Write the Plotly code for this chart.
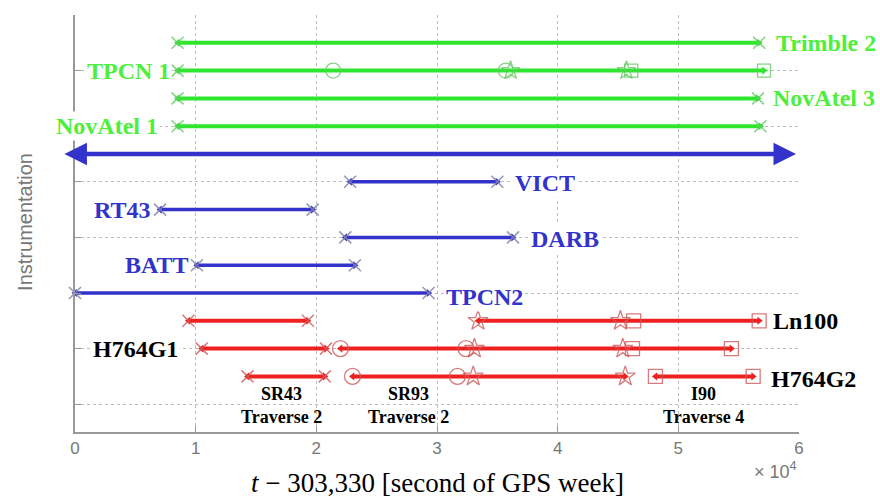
import plotly.graph_objects as go

# ---------------- data (seconds since t0 = 303,330 s of GPS week) ----------------
green_rows = ["Trimble 2", "TPCN 1", "NovAtel 3", "NovAtel 1"]
green_y = [14, 13, 12, 11]
green_start = [8500, 8500, 8500, 8500]
green_end = [56700, 57100, 56600, 56800]
tpcn1_circles = [21400, 35700]
tpcn1_stars = [36100, 45700]
tpcn1_squares = [46100, 57100]

msol_y = 10
msol_start = -1000
msol_end = 59750

blue_rows = ["VICT", "RT43", "DARB", "BATT", "TPCN2"]
blue_y = [9, 8, 7, 6, 5]
blue_start = [22800, 7050, 22400, 10100, 0]
blue_end = [35000, 19700, 36300, 23200, 29300]

red_rows = ["Ln100", "H764G1", "H764G2"]
red_y = [4, 3, 2]
red_segments = [
    [(9400, 19300), (33400, 56700)],
    [(10500, 20800), (22000, 54400)],
    [(14300, 20700), (23000, 45600), (48100, 56200)],
]
red_circles = [[], [22000, 32400], [23000, 31700]]
red_stars = [[33400, 45200], [33100, 45400], [33000, 45600]]
red_squares = [[46300, 56700], [46200, 54400], [48100, 56200]]

x_tickvals = [0, 10000, 20000, 30000, 40000, 50000, 60000]
x_ticktext = ["0", "1", "2", "3", "4", "5", "6"]
y_tickvals = [1, 3, 5, 7, 9, 11, 13, 15]

traverse_labels = ["SR43<br>Traverse 2", "SR93<br>Traverse 2", "I90<br>Traverse 4"]
traverse_x = [17100, 27600, 52050]

# ---------------- styles ----------------
GREEN = "#2ee62e"
GREEN_TXT = "#4cf03a"
GREEN_MK = "rgba(100,200,100,0.8)"
BLUE = "#3333cc"
BLUE_MK = "rgba(130,130,170,0.85)"
RED = "#ee2020"
RED_MK = "rgba(205,90,90,0.8)"
SERIF = "Liberation Serif"
SANS = "Liberation Sans"

fig = go.Figure()


def seg_trace(x0, x1, y, color, width):
    fig.add_trace(go.Scatter(x=[x0, x1], y=[y, y], mode="lines",
                             line=dict(color=color, width=width),
                             hoverinfo="skip", showlegend=False, cliponaxis=False))


def mk_trace(xs, y, symbol, color, size, width=1.3):
    if not xs:
        return
    fig.add_trace(go.Scatter(x=xs, y=[y] * len(xs), mode="markers",
                             marker=dict(symbol=symbol, size=size, color=color,
                                         line=dict(color=color, width=width)),
                             hoverinfo="skip", showlegend=False, cliponaxis=False))


def heads(s, e, y, color):
    # small arrow heads pointing outward at each end of an interval
    fig.add_trace(go.Scatter(x=[s], y=[y], mode="markers",
                             marker=dict(symbol="triangle-left", size=7, color=color),
                             hoverinfo="skip", showlegend=False, cliponaxis=False))
    fig.add_trace(go.Scatter(x=[e], y=[y], mode="markers",
                             marker=dict(symbol="triangle-right", size=7, color=color),
                             hoverinfo="skip", showlegend=False, cliponaxis=False))


# green
for name, y, s, e in zip(green_rows, green_y, green_start, green_end):
    seg_trace(s, e, y, GREEN, 4)
    heads(s, e, y, GREEN)
    ends = [s] if name == "TPCN 1" else [s, e]
    mk_trace(ends, y, "x-thin-open", GREEN_MK, 12, 1.5)
mk_trace(tpcn1_circles, 13, "circle-open", GREEN_MK, 15)
mk_trace(tpcn1_stars, 13, "star-open", GREEN_MK, 14)
mk_trace(tpcn1_squares, 13, "square-open", GREEN_MK, 13)

# blue
for name, y, s, e in zip(blue_rows, blue_y, blue_start, blue_end):
    seg_trace(s, e, y, BLUE, 3.5)
    heads(s, e, y, BLUE)
    mk_trace([s, e], y, "x-thin-open", BLUE_MK, 12, 1.5)

# red
for i, y in enumerate(red_y):
    for j, (s, e) in enumerate(red_segments[i]):
        seg_trace(s, e, y, RED, 4)
        heads(s, e, y, RED)
        if j == 0:
            mk_trace([s, e], y, "x-thin-open", RED_MK, 12, 1.5)
    mk_trace(red_circles[i], y, "circle-open", RED_MK, 16)
    mk_trace(red_stars[i], y, "star-open", RED_MK, 15)
    mk_trace(red_squares[i], y, "square-open", RED_MK, 14)

ann = []
# MSOL double arrow
ann.append(dict(x=msol_end, y=msol_y, ax=msol_start, ay=msol_y, xref="x", yref="y",
                axref="x", ayref="y", text="", showarrow=True, arrowhead=2,
                arrowside="end+start", arrowwidth=4.5, arrowsize=1.0, arrowcolor=BLUE))


def label(text, x, y, color, anchor, size=24):
    ann.append(dict(x=x, y=y, xref="x", yref="y", text=text, showarrow=False,
                    xanchor=anchor, yanchor="middle", bgcolor="white", borderpad=1,
                    font=dict(family=SERIF, size=size, color=color, weight="bold")))


label("Trimble 2", 57900, 14, GREEN_TXT, "left")
label("TPCN 1", 8050, 13, GREEN_TXT, "right")
label("NovAtel 3", 57700, 12, GREEN_TXT, "left")
label("NovAtel 1", 7050, 11, GREEN_TXT, "right")
label("MSOL", 60400, 10, BLUE, "left")
label("VICT", 36300, 8.95, BLUE, "left")
label("RT43", 6500, 8, BLUE, "right")
label("DARB", 37600, 6.95, BLUE, "left")
label("BATT", 9600, 6, BLUE, "right")
label("TPCN2", 30600, 4.85, BLUE, "left")
label("Ln100", 57700, 4, "black", "left")
label("H764G1", 8700, 3, "black", "right")
label("H764G2", 57500, 1.9, "black", "left")

for t, x in zip(traverse_labels, traverse_x):
    ann.append(dict(x=x, y=0.97, xref="x", yref="y", text=t, showarrow=False,
                    xanchor="center", yanchor="middle", align="center",
                    font=dict(family=SERIF, size=18, color="black", weight="bold")))

ann.append(dict(x=0.5, y=-0.122, xref="paper", yref="paper",
                text="<i>t</i> \u2212 303,330 [second of GPS week]", showarrow=False,
                xanchor="center", yanchor="middle",
                font=dict(family=SERIF, size=27, color="black")))
ann.append(dict(x=1.0, y=-0.092, xref="paper", yref="paper",
                text="\u00d7 10<sup>4</sup>", showarrow=False,
                xanchor="right", yanchor="middle",
                font=dict(family=SANS, size=18, color="#777")))
ann.append(dict(x=-0.069, y=0.504, xref="paper", yref="paper",
                text="Instrumentation", showarrow=False, textangle=-90,
                xanchor="center", yanchor="middle",
                font=dict(family=SANS, size=20, color="#777")))

fig.update_layout(
    width=880, height=497,
    margin=dict(l=75, r=81, t=15, b=65),
    paper_bgcolor="white", plot_bgcolor="white",
    showlegend=False,
    annotations=ann,
    xaxis=dict(range=[0, 60000], tickvals=x_tickvals, ticktext=x_ticktext,
               showgrid=True, gridcolor="#bdbdbd", griddash="dot", gridwidth=1,
               zeroline=False, showline=True, linecolor="#999", linewidth=1.5,
               ticks="inside", ticklen=6, tickcolor="#999",
               tickfont=dict(family=SANS, size=17, color="#777")),
    yaxis=dict(range=[0, 15], tickvals=y_tickvals, showticklabels=False,
               showgrid=True, gridcolor="#bdbdbd", griddash="dot", gridwidth=1,
               zeroline=False, showline=True, linecolor="#999", linewidth=1.5,
               ticks="inside", ticklen=6, tickcolor="#999"),
)

fig.write_html("out.html")
